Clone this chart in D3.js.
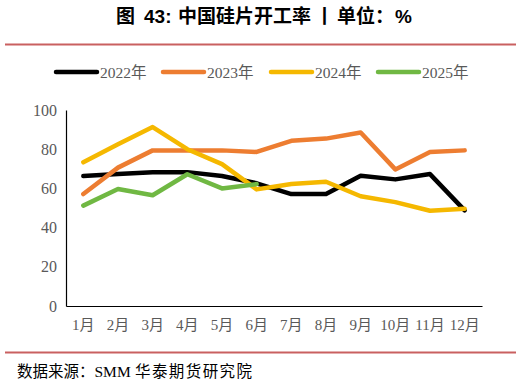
<!DOCTYPE html>
<html><head><meta charset="utf-8">
<script src="https://cdn.jsdelivr.net/npm/d3@7"></script>
<style>
body{margin:0;background:#fff;}
svg{display:block;}
.ax text{font-family:'Liberation Serif','Times New Roman',serif;}
</style></head>
<body>
<svg id="c" width="521" height="383"></svg>
<script>
const months = ["1月","2月","3月","4月","5月","6月","7月","8月","9月","10月","11月","12月"];
const s2022 = [66.3,67.3,68.3,68.3,66.3,62.6,57.1,57.1,66.5,64.6,67.3,48.8];
const s2023 = [57.1,70.6,79.4,79.4,79.4,78.6,84.3,85.4,88.5,69.7,78.6,79.4];
const s2024 = [73.3,82.5,91.3,80,72.4,59.5,62.2,63.4,56,53,48.6,49.6];
const s2025 = [51.2,59.7,56.5,67.2,60,62.2];
const seriesNames = ["2022年","2023年","2024年","2025年"];
const seriesColors = ["#000000","#ed7d31","#f5b800","#70b843"];
const yTicks = [0,20,40,60,80,100];
const titleParts = ["图","43:","中国硅片开工率","丨","单位：","%"];
const sourceParts = ["数据来源：SMM","华泰期货研究院"];

const svg = d3.select("#c");
const serif = "'Liberation Serif','Times New Roman','Noto Sans CJK SC',serif";

// title
const tX = [116,144,178,315,337,395];
const tt = svg.append("text").attr("y",23)
  .attr("font-family","'Liberation Sans','Noto Sans CJK SC',sans-serif").attr("font-weight","bold").attr("font-size",19).attr("fill","#000");
titleParts.forEach((p,i)=>{ tt.append("tspan").attr("x",tX[i]).text(p); });
svg.append("line").attr("x1",5).attr("x2",516).attr("y1",44.5).attr("y2",44.5)
  .attr("stroke","#c96060").attr("stroke-width",2);
svg.append("line").attr("x1",5).attr("x2",516).attr("y1",352.5).attr("y2",352.5)
  .attr("stroke","#c96060").attr("stroke-width",2);
const st = svg.append("text").attr("y",377)
  .attr("font-family",serif).attr("font-size",15.5).attr("fill","#000");
st.append("tspan").attr("x",17).text(sourceParts[0]);
st.append("tspan").attr("x",135).attr("textLength",117).text(sourceParts[1]);

const x = d3.scaleBand().domain(months).range([66,482]);
const y = d3.scaleLinear().domain([0,100]).range([306,110]);

// axes
const yAxis = svg.append("g").attr("class","ax").attr("transform","translate(66,0)")
  .call(d3.axisLeft(y).tickValues(yTicks).tickSize(0).tickPadding(9));
yAxis.attr("font-family",null);
yAxis.select(".domain").attr("stroke","#000").attr("stroke-width",1.2);
yAxis.selectAll("text").style("font-family",serif).attr("font-size",16).attr("fill","#595959");

const xAxis = svg.append("g").attr("class","ax").attr("transform","translate(0,306)")
  .call(d3.axisBottom(x).tickSize(0).tickPadding(13));
xAxis.attr("font-family",null);
xAxis.select(".domain").attr("stroke","#000").attr("stroke-width",1.2);
xAxis.selectAll("text").style("font-family",serif).attr("font-size",15).attr("fill","#595959");

const all = [s2022,s2023,s2024,s2025];
const line = d3.line().x((d,i)=>x(months[i])+x.bandwidth()/2).y(d=>y(d));
all.forEach((s,k)=>{
  svg.append("path").datum(s).attr("d",line).attr("fill","none")
    .attr("stroke",seriesColors[k]).attr("stroke-width",4.5)
    .attr("stroke-linejoin","round").attr("stroke-linecap","round");
});

// legend
const legX = [56,163,271,378];
seriesNames.forEach((n,k)=>{
  svg.append("line").attr("x1",legX[k]).attr("x2",legX[k]+41).attr("y1",72).attr("y2",72)
    .attr("stroke",seriesColors[k]).attr("stroke-width",4.5).attr("stroke-linecap","round");
  svg.append("text").attr("x",legX[k]+44).attr("y",77.5)
    .attr("font-family",serif).attr("font-size",15.5).attr("fill","#595959").text(n);
});
</script>
</body></html>
